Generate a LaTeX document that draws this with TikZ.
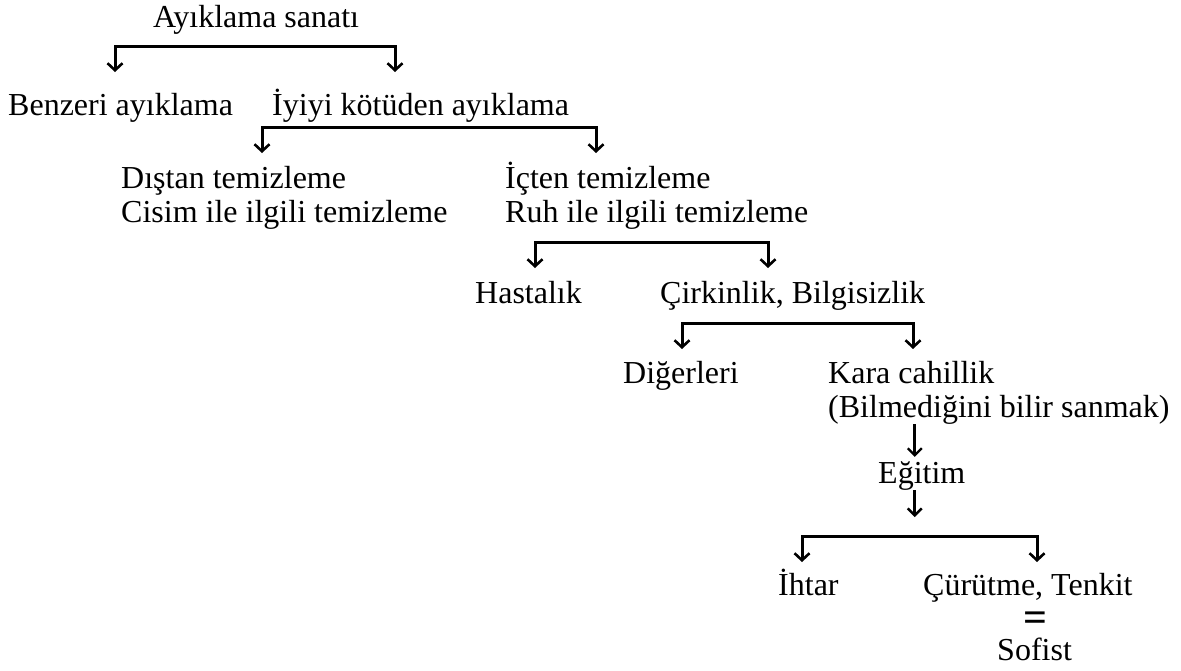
\documentclass[tikz,border=0pt]{standalone}
\usepackage{fontspec}
\setmainfont{Liberation Serif}
\usetikzlibrary{arrows.meta}

\newcommand{\treefont}{\fontsize{32}{34}\selectfont}
\tikzstyle{term} = [anchor=base west, inner sep=0pt, align=left, font=\treefont]
\tikzstyle{bracket} = [draw, line width=3pt, {Straight Barb[length=7pt,width=15pt,line width=2.6pt]}-{Straight Barb[length=7pt,width=15pt,line width=2.6pt]}]
\tikzstyle{arrowdown} = [draw, line width=2.6pt, -{Straight Barb[length=7pt,width=14pt,line width=2.4pt]}]

\begin{document}
\begin{tikzpicture}[x=1pt,y=-1pt]
      \useasboundingbox (0,0) rectangle (1181,670);
      %nodes (y = baseline of the last line)
      \foreach \nodename/\x/\y/\txt in {
        ayiklama/153/27/{Ayıklama sanatı},
        benzeri/8/115/{Benzeri ayıklama},
        iyiyi/272/115/{İyiyi kötüden ayıklama},
        distan/121/222/{Dıştan temizleme\\Cisim ile ilgili temizleme},
        icten/505/222/{İçten temizleme\\Ruh ile ilgili temizleme},
        hastalik/475/303/{Hastalık},
        cirkinlik/660/303/{Çirkinlik, Bilgisizlik},
        digerleri/623/383/{Diğerleri},
        kara/828/417/{Kara cahillik\\(Bilmediğini bilir sanmak)},
        egitim/878/483/{Eğitim},
        ihtar/778/595/{İhtar},
        curutme/923/595/{Çürütme, Tenkit},
        sofist/997/660/{Sofist}}
      {
        \node[term] (\nodename) at (\x,\y) {\txt};
      };
      \node[inner sep=0pt, font=\fontsize{42}{42}\selectfont\bfseries] (esit) at (1035,622) {=};

      %bracket ends
      \foreach \name/\x/\y in {
        b1l/115/72, b1r/395/72,
        b2l/262/153, b2r/596/153,
        b3l/535/268, b3r/768/268,
        b4l/682/349, b4r/913/349,
        b5l/802/562, b5r/1037/562}
      {
        \coordinate (\name) at (\x,\y);
      };

      %brackets
      \foreach \l/\r in {b1l/b1r, b2l/b2r, b3l/b3r, b4l/b4r, b5l/b5r}
      {
        \draw[bracket] (\l) -- ++(0,-26) -| (\r);
      };

      %single arrows
      \draw[arrowdown] ([xshift=-7pt]egitim.north |- kara.south) -- ([xshift=-7pt,yshift=4pt]egitim.north);
      \draw[arrowdown] ([xshift=-7pt]egitim.south) -- ++(0,27);
    \end{tikzpicture}
\end{document}
